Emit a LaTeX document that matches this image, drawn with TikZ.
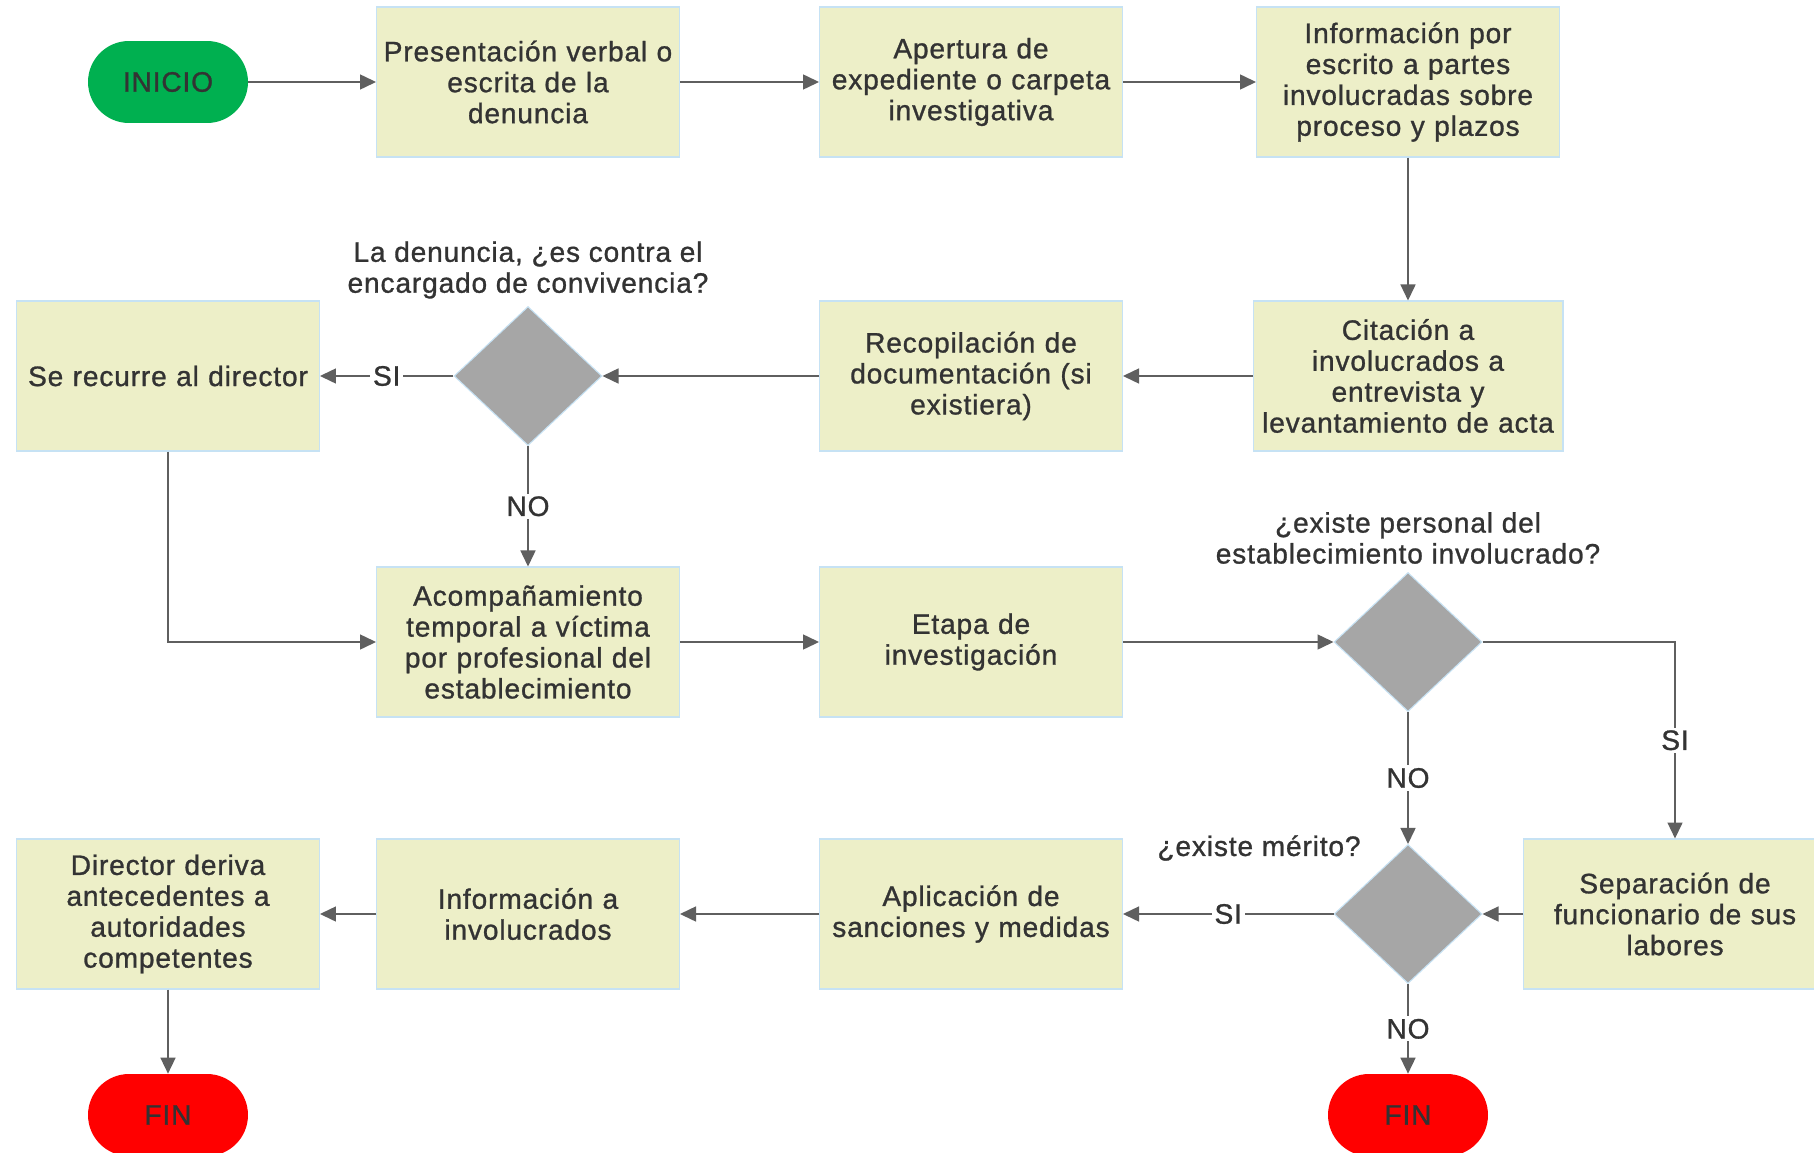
\documentclass[tikz,border=0pt]{standalone}
\usepackage{fontspec}
\setmainfont{Liberation Sans}[LetterSpace=3,FakeBold=1]
\usetikzlibrary{arrows.meta,shapes.geometric}

\definecolor{boxfill}{HTML}{EDEFC8}
\definecolor{boxline}{HTML}{C6E2F4}
\definecolor{diafill}{HTML}{A6A6A6}
\definecolor{startgreen}{HTML}{00B050}
\definecolor{endred}{HTML}{FF0000}
\definecolor{txtgray}{HTML}{333333}
\definecolor{linegray}{HTML}{5F5F5F}

\tikzset{
	txt/.style={text=txtgray, font=\fontsize{16}{17.6}\selectfont},
	paso/.style={txt, rectangle, draw=boxline, fill=boxfill, line width=0.6pt,
		minimum width=6.06cm, minimum height=3cm, text width=5.9cm, inner sep=2pt, align=center},
	decision/.style={diamond, draw=boxline, fill=diafill, line width=0.6pt,
		minimum width=2.96cm, minimum height=2.78cm, inner sep=0pt},
	terminal/.style={txt, rectangle, rounded corners=0.82cm, minimum width=3.2cm,
		minimum height=1.64cm, inner sep=0pt},
	pregunta/.style={txt, align=center, inner sep=1pt},
	etiqueta/.style={txt, fill=white, inner sep=1.5pt},
	flecha/.style={draw=linegray, line width=0.85pt, -{Triangle[length=0.32cm,width=0.3cm]}}
}

\begin{document}
\begin{tikzpicture}[x=0.02cm, y=-0.02cm]
	%Fixes the size of the page
	\useasboundingbox[fill=white] (0,0) rectangle (1814,1152);

	%Draws the first row: start and reception of the complaint
	\node[terminal, fill=startgreen] (inicio) at (168,82) {INICIO};
	\node[paso] (pres) at (528,82) {Presentación verbal o\\escrita de la\\denuncia};
	\node[paso] (apert) at (971,82) {Apertura de\\expediente o carpeta\\investigativa};
	\node[paso] (info) at (1408,82) {Información por\\escrito a partes\\involucradas sobre\\proceso y plazos};

	%Draws the second row
	\node[paso] (recurre) at (168,376) {Se recurre al director};
	\node[decision] (dec1) at (528,376) {};
	\node[pregunta] (q1) at (528,270) {La denuncia, ¿es contra el\\encargado de convivencia?};
	\node[paso] (recop) at (971,376) {Recopilación de\\documentación (si\\existiera)};
	\node[paso, minimum width=6.16cm, text width=6.06cm] (cita) at (1408,376) {Citación a\\involucrados a\\entrevista y\\levantamiento de acta};

	%Draws the third row
	\node[paso] (acomp) at (528,642) {Acompañamiento\\temporal a víctima\\por profesional del\\establecimiento};
	\node[paso] (etapa) at (971,642) {Etapa de\\investigación};
	\node[decision] (dec2) at (1408,642) {};
	\node[pregunta] (q2) at (1408,538) {¿existe personal del\\establecimiento involucrado?};

	%Draws the fourth row
	\node[paso] (director) at (168,914) {Director deriva\\antecedentes a\\autoridades\\competentes};
	\node[paso] (infoinv) at (528,914) {Información a\\involucrados};
	\node[paso] (aplic) at (971,914) {Aplicación de\\sanciones y medidas};
	\node[decision] (dec3) at (1408,914) {};
	\node[pregunta] (q3) at (1259,848) {¿existe mérito?};
	\node[paso] (separ) at (1675,914) {Separación de\\funcionario de sus\\labores};

	%Draws the two ends
	\node[terminal, fill=endred] (fin1) at (168,1115) {FIN};
	\node[terminal, fill=endred] (fin2) at (1408,1115) {FIN};

	%Connectors of the main flow
	\draw[flecha] (inicio) -- (pres);
	\draw[flecha] (pres) -- (apert);
	\draw[flecha] (apert) -- (info);
	\draw[flecha] (info) -- (cita);
	\draw[flecha] (cita) -- (recop);
	\draw[flecha] (recop) -- (dec1);
	\draw[flecha] (dec1) -- node[etiqueta] {SI} (recurre);
	\draw[flecha] (dec1) -- node[etiqueta] {NO} (acomp);
	\draw[flecha] (recurre) |- (acomp);
	\draw[flecha] (acomp) -- (etapa);
	\draw[flecha] (etapa) -- (dec2);
	\draw[flecha] (dec2) -| node[etiqueta, pos=0.75] {SI} (separ);
	\draw[flecha] (dec2) -- node[etiqueta] {NO} (dec3);
	\draw[flecha] (separ) -- (dec3);
	\draw[flecha] (dec3) -- node[etiqueta] {SI} (aplic);
	\draw[flecha] (dec3) -- node[etiqueta] {NO} (fin2);
	\draw[flecha] (aplic) -- (infoinv);
	\draw[flecha] (infoinv) -- (director);
	\draw[flecha] (director) -- (fin1);
\end{tikzpicture}
\end{document}
